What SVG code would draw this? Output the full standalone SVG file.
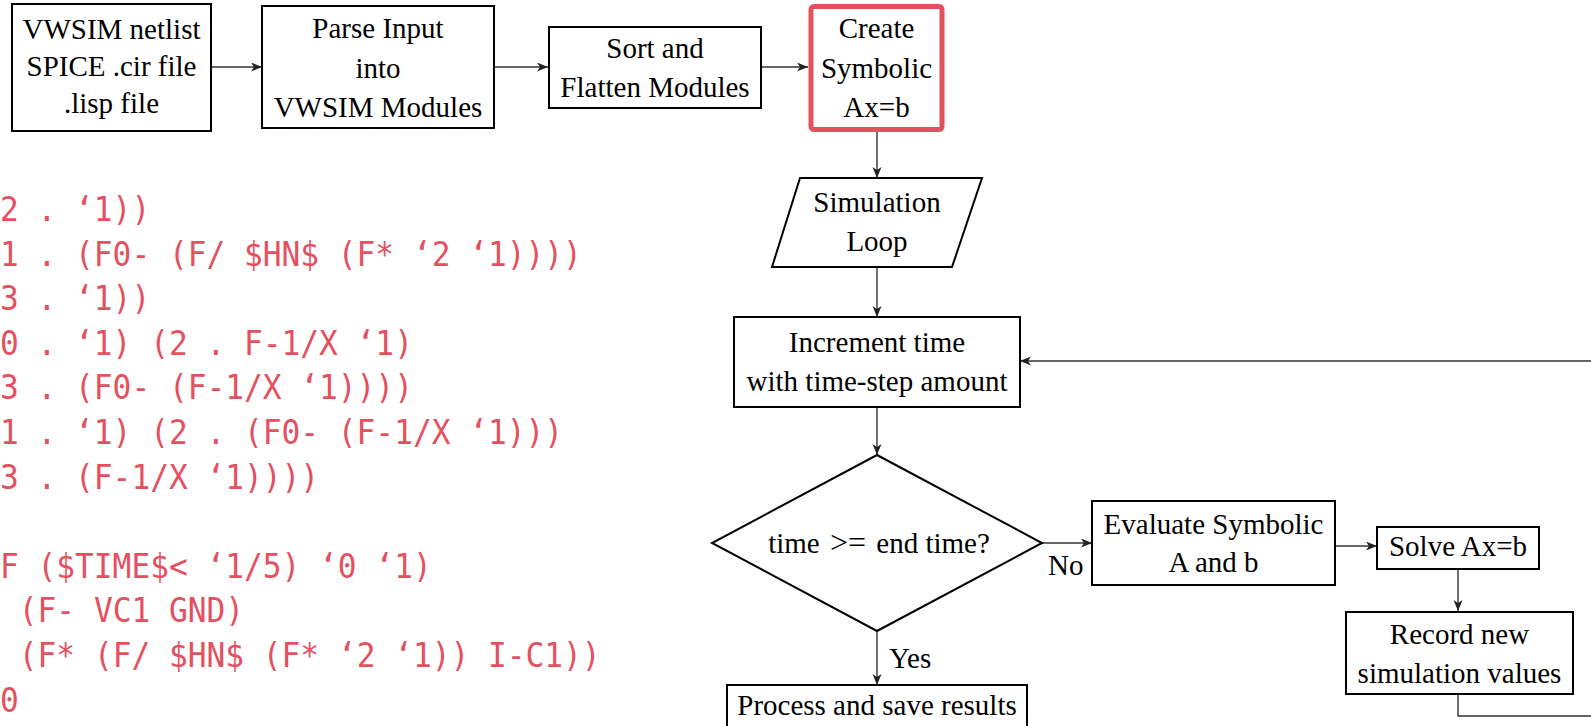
<svg xmlns="http://www.w3.org/2000/svg" width="1591" height="726" viewBox="0 0 1591 726">
<style>
.box{fill:#fff;stroke:#000;stroke-width:2}
.hl{fill:#fff;stroke:#e5505f;stroke-width:5}
.t{font-family:"Liberation Serif","Times New Roman",serif;font-size:29px;fill:#000;text-anchor:middle}
.lbl{font-family:"Liberation Serif","Times New Roman",serif;font-size:29px;fill:#000}
.code{font-family:"DejaVu Sans Mono","Liberation Mono",monospace;font-size:33px;fill:#e5505f}
.c{fill:none;stroke:#333;stroke-width:1.4}
</style>
<defs>
<marker id="ah" markerUnits="userSpaceOnUse" markerWidth="12" markerHeight="10" refX="11" refY="4.5" orient="auto">
<path d="M0,0 L11,4.5 L0,9 L3,4.5 z" fill="#222"/>
</marker>
</defs>
<g id="code" transform="scale(0.945 1)">
<text class="code" x="0" y="221">2 . ‘1))</text>
<text class="code" x="0" y="265.6">1 . (F0- (F/ $HN$ (F* ‘2 ‘1))))</text>
<text class="code" x="0" y="310.2">3 . ‘1))</text>
<text class="code" x="0" y="354.8">0 . ‘1) (2 . F-1/X ‘1)</text>
<text class="code" x="0" y="399.4">3 . (F0- (F-1/X ‘1))))</text>
<text class="code" x="0" y="444">1 . ‘1) (2 . (F0- (F-1/X ‘1)))</text>
<text class="code" x="0" y="488.6">3 . (F-1/X ‘1))))</text>
<text class="code" x="0" y="577.8">F ($TIME$&lt; ‘1/5) ‘0 ‘1)</text>
<text class="code" x="19.9" y="622.4">(F- VC1 GND)</text>
<text class="code" x="19.9" y="667">(F* (F/ $HN$ (F* ‘2 ‘1)) I-C1))</text>
<text class="code" x="0" y="711.6">0</text>
</g>
<g id="connectors">
<line class="c" x1="211" y1="67" x2="262" y2="67" marker-end="url(#ah)"/>
<line class="c" x1="494" y1="67" x2="548" y2="67" marker-end="url(#ah)"/>
<line class="c" x1="761" y1="67" x2="808" y2="67" marker-end="url(#ah)"/>
<line class="c" x1="877" y1="132" x2="877" y2="178" marker-end="url(#ah)"/>
<line class="c" x1="877" y1="267" x2="877" y2="317" marker-end="url(#ah)"/>
<line class="c" x1="877" y1="407" x2="877" y2="455" marker-end="url(#ah)"/>
<line class="c" x1="1042" y1="543" x2="1092" y2="543" marker-end="url(#ah)"/>
<line class="c" x1="877" y1="631" x2="877" y2="685" marker-end="url(#ah)"/>
<line class="c" x1="1335" y1="546" x2="1377" y2="546" marker-end="url(#ah)"/>
<line class="c" x1="1458" y1="569" x2="1458" y2="611" marker-end="url(#ah)"/>
<polyline class="c" points="1458,694 1458,716 1600,716"/>
<line class="c" x1="1600" y1="361" x2="1020" y2="361" marker-end="url(#ah)"/>
<text class="lbl" x="1048" y="575">No</text>
<text class="lbl" x="889" y="668">Yes</text>
</g>
<g id="input">
<rect class="box" x="12" y="4" width="199" height="127"/>
<text class="t" x="111.5" y="39">VWSIM netlist</text>
<text class="t" x="111.5" y="76">SPICE .cir file</text>
<text class="t" x="111.5" y="113">.lisp file</text>
</g>
<g id="parse">
<rect class="box" x="262" y="6" width="232" height="122"/>
<text class="t" x="378" y="38">Parse Input</text>
<text class="t" x="378" y="77.5">into</text>
<text class="t" x="378" y="117">VWSIM Modules</text>
</g>
<g id="sort">
<rect class="box" x="549" y="27" width="212" height="81"/>
<text class="t" x="655" y="58">Sort and</text>
<text class="t" x="655" y="97">Flatten Modules</text>
</g>
<g id="symbolic">
<rect class="hl" x="811" y="6.5" width="131" height="123" rx="3"/>
<text class="t" x="876.5" y="38">Create</text>
<text class="t" x="876.5" y="78">Symbolic</text>
<text class="t" x="876.5" y="117">Ax=b</text>
</g>
<g id="loop">
<polygon class="box" points="800,178 982,178 952,267 772,267"/>
<text class="t" x="877" y="212">Simulation</text>
<text class="t" x="877" y="251">Loop</text>
</g>
<g id="increment">
<rect class="box" x="734" y="317" width="286" height="90"/>
<text class="t" x="877" y="352">Increment time</text>
<text class="t" x="877" y="391">with time-step amount</text>
</g>
<g id="decision">
<polygon class="box" points="877,455 1042,543 877,631 712,543"/>
<text class="t" x="879" y="553">time <tspan dx="3" font-size="32">&gt;=</tspan><tspan dx="3"> end time?</tspan></text>
</g>
<g id="evaluate">
<rect class="box" x="1092" y="501" width="243" height="84"/>
<text class="t" x="1213.5" y="534">Evaluate Symbolic</text>
<text class="t" x="1213.5" y="572">A and b</text>
</g>
<g id="solve">
<rect class="box" x="1377" y="527" width="162" height="42"/>
<text class="t" x="1458" y="556">Solve Ax=b</text>
</g>
<g id="record">
<rect class="box" x="1346" y="612" width="227" height="82"/>
<text class="t" x="1459.5" y="643.5">Record new</text>
<text class="t" x="1459.5" y="682.5">simulation values</text>
</g>
<g id="process">
<rect class="box" x="727" y="685" width="300" height="50"/>
<text class="t" x="877" y="715">Process and save results</text>
</g>
</svg>
